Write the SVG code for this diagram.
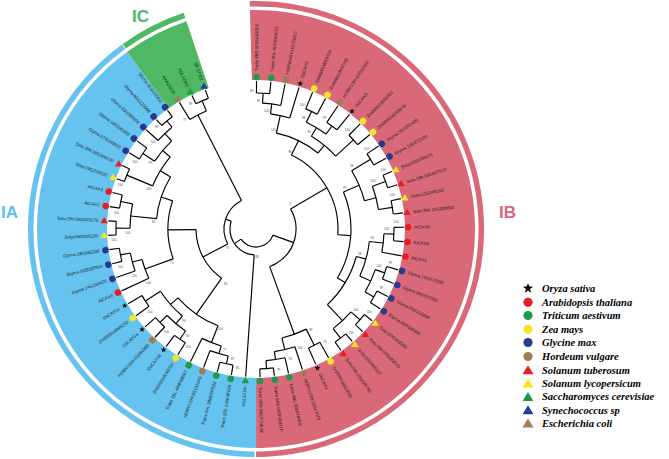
<svg xmlns="http://www.w3.org/2000/svg" xmlns:xlink="http://www.w3.org/1999/xlink" width="669" height="459" viewBox="0 0 669 459">
<style>
.t circle{fill:none;stroke:#000;stroke-width:1.15}
.t line{stroke:#000;stroke-width:1.15}
.sec circle{fill:none}
.lb{font-family:"Liberation Sans",Arial,sans-serif;font-size:4.4px;fill:#1a1a1a}
.bs{font-family:"Liberation Sans",Arial,sans-serif;font-size:3.1px;fill:#555;text-anchor:middle}
.e{text-anchor:end}
.lg{font-family:"Liberation Serif","Times New Roman",serif;font-size:10.5px;font-weight:bold;font-style:italic;fill:#000}
.cl{font-family:"Liberation Sans",Arial,sans-serif;font-weight:bold;font-size:17px}
.red{fill:#E51E25}.grn{fill:#1E9A4A}.yel{fill:#F4E526}.nav{fill:#283A90}.brn{fill:#A47B55}.blk{fill:#000}.ytr{fill:#F2E81E}.btr{fill:#1F3DA6}
</style>
<defs>
<circle id="dc" r="3.3"/>
<path id="dt" d="M0,-3.6 L3.8,2.6 L-3.8,2.6Z"/>
<path id="ds" d="M0,-3 L0.705,-0.971 L2.853,-0.927 L1.141,0.371 L1.763,2.427 L0,1.2 L-1.763,2.427 L-1.141,0.371 L-2.853,-0.927 L-0.705,-0.971Z"/>
</defs>
<rect width="669" height="459" fill="#fff"/>
<g class="sec" transform="translate(256,229)">
<circle r="184" stroke="#D96878" stroke-width="70" pathLength="360" stroke-dasharray="181.6 400" transform="rotate(-91.6)"/>
<circle r="184" stroke="#66C3EF" stroke-width="70" pathLength="360" stroke-dasharray="144 400" transform="rotate(90)"/>
<circle r="184" stroke="#4FB865" stroke-width="70" pathLength="360" stroke-dasharray="17.5 400" transform="rotate(234)"/>
<circle r="225.3" stroke="#D96878" stroke-width="5.5" pathLength="360" stroke-dasharray="181.6 400" transform="rotate(-91.6)"/>
<circle r="225.3" stroke="#66C3EF" stroke-width="5.5" pathLength="360" stroke-dasharray="143.6 400" transform="rotate(90.4)"/>
<circle r="225.3" stroke="#4FB865" stroke-width="5.5" pathLength="360" stroke-dasharray="17.3 400" transform="rotate(234.2)"/>
</g>
<text class="cl" x="1" y="217.5" fill="#5BBFEB">IA</text>
<text class="cl" x="499" y="218" fill="#D96878">IB</text>
<text class="cl" x="132" y="21.5" fill="#4FB865" font-size="18">IC</text>
<g id="connectors" class="t" transform="translate(256,229)">
<circle r="136" pathLength="360" stroke-dasharray="5.57 400" transform="rotate(-89.8)"/>
<line y1="-136" y2="-148" transform="rotate(0.2)"/><line y1="-136" y2="-148" transform="rotate(5.77)"/>
<circle r="126" pathLength="360" stroke-dasharray="8.35 400" transform="rotate(-87.01)"/>
<line y1="-126" y2="-136" transform="rotate(2.99)"/><line y1="-126" y2="-148" transform="rotate(11.34)"/>
<circle r="116" pathLength="360" stroke-dasharray="9.74 400" transform="rotate(-82.83)"/>
<line y1="-116" y2="-126" transform="rotate(7.17)"/><line y1="-116" y2="-148" transform="rotate(16.91)"/>
<circle r="130" pathLength="360" stroke-dasharray="5.57 400" transform="rotate(-67.52)"/>
<line y1="-130" y2="-148" transform="rotate(22.48)"/><line y1="-130" y2="-148" transform="rotate(28.05)"/>
<circle r="128" pathLength="360" stroke-dasharray="5.57 400" transform="rotate(-56.38)"/>
<line y1="-128" y2="-148" transform="rotate(33.62)"/><line y1="-128" y2="-148" transform="rotate(39.19)"/>
<circle r="118" pathLength="360" stroke-dasharray="11.14 400" transform="rotate(-64.73)"/>
<line y1="-118" y2="-130" transform="rotate(25.27)"/><line y1="-118" y2="-128" transform="rotate(36.41)"/>
<circle r="132" pathLength="360" stroke-dasharray="5.57 400" transform="rotate(-45.24)"/>
<line y1="-132" y2="-148" transform="rotate(44.76)"/><line y1="-132" y2="-148" transform="rotate(50.33)"/>
<circle r="108" pathLength="360" stroke-dasharray="16.71 400" transform="rotate(-59.16)"/>
<line y1="-108" y2="-118" transform="rotate(30.84)"/><line y1="-108" y2="-132" transform="rotate(47.55)"/>
<circle r="98" pathLength="360" stroke-dasharray="27.15 400" transform="rotate(-77.96)"/>
<line y1="-98" y2="-116" transform="rotate(12.04)"/><line y1="-98" y2="-108" transform="rotate(39.19)"/>
<circle r="134" pathLength="360" stroke-dasharray="5.57 400" transform="rotate(-34.1)"/>
<line y1="-134" y2="-148" transform="rotate(55.9)"/><line y1="-134" y2="-148" transform="rotate(61.47)"/>
<circle r="138" pathLength="360" stroke-dasharray="5.57 400" transform="rotate(-22.96)"/>
<line y1="-138" y2="-148" transform="rotate(67.04)"/><line y1="-138" y2="-148" transform="rotate(72.61)"/>
<circle r="138" pathLength="360" stroke-dasharray="5.57 400" transform="rotate(-11.82)"/>
<line y1="-138" y2="-148" transform="rotate(78.18)"/><line y1="-138" y2="-148" transform="rotate(83.75)"/>
<circle r="124" pathLength="360" stroke-dasharray="11.14 400" transform="rotate(-20.17)"/>
<line y1="-124" y2="-138" transform="rotate(69.83)"/><line y1="-124" y2="-138" transform="rotate(80.97)"/>
<circle r="112" pathLength="360" stroke-dasharray="16.71 400" transform="rotate(-31.31)"/>
<line y1="-112" y2="-134" transform="rotate(58.69)"/><line y1="-112" y2="-124" transform="rotate(75.4)"/>
<circle r="138" pathLength="360" stroke-dasharray="5.57 400" transform="rotate(-0.68)"/>
<line y1="-138" y2="-148" transform="rotate(89.32)"/><line y1="-138" y2="-148" transform="rotate(94.89)"/>
<circle r="128" pathLength="360" stroke-dasharray="8.35 400" transform="rotate(2.11)"/>
<line y1="-128" y2="-138" transform="rotate(92.11)"/><line y1="-128" y2="-148" transform="rotate(100.46)"/>
<circle r="136" pathLength="360" stroke-dasharray="5.57 400" transform="rotate(16.03)"/>
<line y1="-136" y2="-148" transform="rotate(106.03)"/><line y1="-136" y2="-148" transform="rotate(111.6)"/>
<circle r="136" pathLength="360" stroke-dasharray="5.57 400" transform="rotate(27.17)"/>
<line y1="-136" y2="-148" transform="rotate(117.17)"/><line y1="-136" y2="-148" transform="rotate(122.74)"/>
<circle r="126" pathLength="360" stroke-dasharray="11.14 400" transform="rotate(18.82)"/>
<line y1="-126" y2="-136" transform="rotate(108.82)"/><line y1="-126" y2="-136" transform="rotate(119.96)"/>
<circle r="114" pathLength="360" stroke-dasharray="18.11 400" transform="rotate(6.28)"/>
<line y1="-114" y2="-128" transform="rotate(96.28)"/><line y1="-114" y2="-126" transform="rotate(114.39)"/>
<circle r="138" pathLength="360" stroke-dasharray="5.57 400" transform="rotate(38.31)"/>
<line y1="-138" y2="-148" transform="rotate(128.31)"/><line y1="-138" y2="-148" transform="rotate(133.88)"/>
<circle r="138" pathLength="360" stroke-dasharray="5.57 400" transform="rotate(49.45)"/>
<line y1="-138" y2="-148" transform="rotate(139.45)"/><line y1="-138" y2="-148" transform="rotate(145.02)"/>
<circle r="126" pathLength="360" stroke-dasharray="11.14 400" transform="rotate(41.1)"/>
<line y1="-126" y2="-138" transform="rotate(131.1)"/><line y1="-126" y2="-138" transform="rotate(142.24)"/>
<circle r="104" pathLength="360" stroke-dasharray="31.33 400" transform="rotate(15.34)"/>
<line y1="-104" y2="-114" transform="rotate(105.34)"/><line y1="-104" y2="-126" transform="rotate(136.67)"/>
<circle r="95" pathLength="360" stroke-dasharray="53.96 400" transform="rotate(-22.96)"/>
<line y1="-95" y2="-112" transform="rotate(67.04)"/><line y1="-95" y2="-104" transform="rotate(121)"/>
<circle r="82" pathLength="360" stroke-dasharray="68.4 400" transform="rotate(-64.38)"/>
<line y1="-82" y2="-98" transform="rotate(25.62)"/><line y1="-82" y2="-95" transform="rotate(94.02)"/>
<circle r="140" pathLength="360" stroke-dasharray="5.57 400" transform="rotate(82.87)"/>
<line y1="-140" y2="-148" transform="rotate(172.87)"/><line y1="-140" y2="-148" transform="rotate(178.44)"/>
<circle r="132" pathLength="360" stroke-dasharray="8.36 400" transform="rotate(77.3)"/>
<line y1="-132" y2="-148" transform="rotate(167.3)"/><line y1="-132" y2="-140" transform="rotate(175.66)"/>
<circle r="124" pathLength="360" stroke-dasharray="9.75 400" transform="rotate(71.73)"/>
<line y1="-124" y2="-148" transform="rotate(161.73)"/><line y1="-124" y2="-132" transform="rotate(171.48)"/>
<circle r="130" pathLength="360" stroke-dasharray="5.57 400" transform="rotate(60.59)"/>
<line y1="-130" y2="-148" transform="rotate(150.59)"/><line y1="-130" y2="-148" transform="rotate(156.16)"/>
<circle r="112" pathLength="360" stroke-dasharray="13.22 400" transform="rotate(63.38)"/>
<line y1="-112" y2="-130" transform="rotate(153.38)"/><line y1="-112" y2="-124" transform="rotate(166.6)"/>
<circle r="40" pathLength="360" stroke-dasharray="100.17 400" transform="rotate(-30.18)"/>
<line y1="-40" y2="-82" transform="rotate(59.82)"/><line y1="-40" y2="-112" transform="rotate(159.99)"/>
<circle r="138" pathLength="360" stroke-dasharray="5.57 400" transform="rotate(99.58)"/>
<line y1="-138" y2="-148" transform="rotate(189.58)"/><line y1="-138" y2="-148" transform="rotate(195.15)"/>
<circle r="130" pathLength="360" stroke-dasharray="8.35 400" transform="rotate(102.37)"/>
<line y1="-130" y2="-138" transform="rotate(192.37)"/><line y1="-130" y2="-148" transform="rotate(200.72)"/>
<circle r="122" pathLength="360" stroke-dasharray="9.75 400" transform="rotate(106.54)"/>
<line y1="-122" y2="-130" transform="rotate(196.54)"/><line y1="-122" y2="-148" transform="rotate(206.29)"/>
<circle r="134" pathLength="360" stroke-dasharray="5.57 400" transform="rotate(121.86)"/>
<line y1="-134" y2="-148" transform="rotate(211.86)"/><line y1="-134" y2="-148" transform="rotate(217.43)"/>
<circle r="134" pathLength="360" stroke-dasharray="5.57 400" transform="rotate(133)"/>
<line y1="-134" y2="-148" transform="rotate(223)"/><line y1="-134" y2="-148" transform="rotate(228.57)"/>
<circle r="124" pathLength="360" stroke-dasharray="11.14 400" transform="rotate(124.65)"/>
<line y1="-124" y2="-134" transform="rotate(214.65)"/><line y1="-124" y2="-134" transform="rotate(225.79)"/>
<circle r="132" pathLength="360" stroke-dasharray="5.57 400" transform="rotate(144.14)"/>
<line y1="-132" y2="-148" transform="rotate(234.14)"/><line y1="-132" y2="-148" transform="rotate(239.71)"/>
<circle r="114" pathLength="360" stroke-dasharray="16.71 400" transform="rotate(130.22)"/>
<line y1="-114" y2="-124" transform="rotate(220.22)"/><line y1="-114" y2="-132" transform="rotate(236.93)"/>
<circle r="104" pathLength="360" stroke-dasharray="27.15 400" transform="rotate(111.42)"/>
<line y1="-104" y2="-122" transform="rotate(201.42)"/><line y1="-104" y2="-114" transform="rotate(228.57)"/>
<circle r="138" pathLength="360" stroke-dasharray="5.57 400" transform="rotate(166.42)"/>
<line y1="-138" y2="-148" transform="rotate(256.42)"/><line y1="-138" y2="-148" transform="rotate(261.99)"/>
<circle r="128" pathLength="360" stroke-dasharray="8.35 400" transform="rotate(160.85)"/>
<line y1="-128" y2="-148" transform="rotate(250.85)"/><line y1="-128" y2="-138" transform="rotate(259.2)"/>
<circle r="118" pathLength="360" stroke-dasharray="9.75 400" transform="rotate(155.28)"/>
<line y1="-118" y2="-148" transform="rotate(245.28)"/><line y1="-118" y2="-128" transform="rotate(255.03)"/>
<circle r="140" pathLength="360" stroke-dasharray="5.57 400" transform="rotate(177.56)"/>
<line y1="-140" y2="-148" transform="rotate(267.56)"/><line y1="-140" y2="-148" transform="rotate(273.13)"/>
<circle r="138" pathLength="360" stroke-dasharray="5.57 400" transform="rotate(188.7)"/>
<line y1="-138" y2="-148" transform="rotate(278.7)"/><line y1="-138" y2="-148" transform="rotate(284.27)"/>
<circle r="126" pathLength="360" stroke-dasharray="11.14 400" transform="rotate(180.35)"/>
<line y1="-126" y2="-140" transform="rotate(270.35)"/><line y1="-126" y2="-138" transform="rotate(281.49)"/>
<circle r="140" pathLength="360" stroke-dasharray="5.57 400" transform="rotate(199.84)"/>
<line y1="-140" y2="-148" transform="rotate(289.84)"/><line y1="-140" y2="-148" transform="rotate(295.41)"/>
<circle r="136" pathLength="360" stroke-dasharray="5.57 400" transform="rotate(210.98)"/>
<line y1="-136" y2="-148" transform="rotate(300.98)"/><line y1="-136" y2="-148" transform="rotate(306.55)"/>
<circle r="140" pathLength="360" stroke-dasharray="5.57 400" transform="rotate(227.69)"/>
<line y1="-140" y2="-148" transform="rotate(317.69)"/><line y1="-140" y2="-148" transform="rotate(323.26)"/>
<circle r="132" pathLength="360" stroke-dasharray="8.36 400" transform="rotate(222.12)"/>
<line y1="-132" y2="-148" transform="rotate(312.12)"/><line y1="-132" y2="-140" transform="rotate(320.48)"/>
<circle r="122" pathLength="360" stroke-dasharray="12.53 400" transform="rotate(213.77)"/>
<line y1="-122" y2="-136" transform="rotate(303.77)"/><line y1="-122" y2="-132" transform="rotate(316.3)"/>
<circle r="112" pathLength="360" stroke-dasharray="17.41 400" transform="rotate(202.63)"/>
<line y1="-112" y2="-140" transform="rotate(292.63)"/><line y1="-112" y2="-122" transform="rotate(310.04)"/>
<circle r="100" pathLength="360" stroke-dasharray="25.42 400" transform="rotate(185.92)"/>
<line y1="-100" y2="-126" transform="rotate(275.92)"/><line y1="-100" y2="-112" transform="rotate(301.34)"/>
<circle r="88" pathLength="360" stroke-dasharray="38.47 400" transform="rotate(160.16)"/>
<line y1="-88" y2="-118" transform="rotate(250.16)"/><line y1="-88" y2="-100" transform="rotate(288.63)"/>
<circle r="60" pathLength="360" stroke-dasharray="54.41 400" transform="rotate(124.99)"/>
<line y1="-60" y2="-104" transform="rotate(214.99)"/><line y1="-60" y2="-88" transform="rotate(269.4)"/>
<circle r="139" pathLength="360" stroke-dasharray="5.57 400" transform="rotate(244.4)"/>
<line y1="-139" y2="-148" transform="rotate(334.4)"/><line y1="-139" y2="-148" transform="rotate(339.97)"/>
<circle r="128" pathLength="360" stroke-dasharray="8.36 400" transform="rotate(238.83)"/>
<line y1="-128" y2="-148" transform="rotate(328.83)"/><line y1="-128" y2="-139" transform="rotate(337.19)"/>
<circle r="32" pathLength="360" stroke-dasharray="90.81 400" transform="rotate(152.2)"/>
<line y1="-32" y2="-60" transform="rotate(242.2)"/><line y1="-32" y2="-128" transform="rotate(333.01)"/>
<circle r="26" pathLength="360" stroke-dasharray="103.59 400" transform="rotate(94.01)"/>
<line y1="-26" y2="-148" transform="rotate(184.01)"/><line y1="-26" y2="-32" transform="rotate(287.6)"/>
<circle r="18" pathLength="360" stroke-dasharray="125.9 400" transform="rotate(19.9)"/>
<line y1="-18" y2="-40" transform="rotate(109.9)"/><line y1="-18" y2="-26" transform="rotate(235.8)"/>
</g>
<g id="support" transform="translate(256,229)">
<text class="bs" dy="1" transform="rotate(-1.8) translate(0,-138.5) rotate(1.8)">83</text>
<text class="bs" dy="1" transform="rotate(0.99) translate(0,-128.5) rotate(-0.99)">96</text>
<text class="bs" dy="1" transform="rotate(5.17) translate(0,-118.5) rotate(-5.17)">100</text>
<text class="bs" dy="1" transform="rotate(20.48) translate(0,-132.5) rotate(-20.48)">100</text>
<text class="bs" dy="1" transform="rotate(31.62) translate(0,-130.5) rotate(-31.62)">99</text>
<text class="bs" dy="1" transform="rotate(23.27) translate(0,-120.5) rotate(-23.27)">98</text>
<text class="bs" dy="1" transform="rotate(42.76) translate(0,-134.5) rotate(-42.76)">100</text>
<text class="bs" dy="1" transform="rotate(28.84) translate(0,-110.5) rotate(-28.84)">85</text>
<text class="bs" dy="1" transform="rotate(10.04) translate(0,-100.5) rotate(-10.04)">100</text>
<text class="bs" dy="1" transform="rotate(53.9) translate(0,-136.5) rotate(-53.9)">100</text>
<text class="bs" dy="1" transform="rotate(65.04) translate(0,-140.5) rotate(-65.04)">100</text>
<text class="bs" dy="1" transform="rotate(76.18) translate(0,-140.5) rotate(-76.18)">100</text>
<text class="bs" dy="1" transform="rotate(67.83) translate(0,-126.5) rotate(-67.83)">100</text>
<text class="bs" dy="1" transform="rotate(56.69) translate(0,-114.5) rotate(-56.69)">98</text>
<text class="bs" dy="1" transform="rotate(87.32) translate(0,-140.5) rotate(-87.32)">100</text>
<text class="bs" dy="1" transform="rotate(90.11) translate(0,-130.5) rotate(-90.11)">100</text>
<text class="bs" dy="1" transform="rotate(104.03) translate(0,-138.5) rotate(-104.03)">99</text>
<text class="bs" dy="1" transform="rotate(115.17) translate(0,-138.5) rotate(-115.17)">99</text>
<text class="bs" dy="1" transform="rotate(106.82) translate(0,-128.5) rotate(-106.82)">100</text>
<text class="bs" dy="1" transform="rotate(94.28) translate(0,-116.5) rotate(-94.28)">96</text>
<text class="bs" dy="1" transform="rotate(126.31) translate(0,-140.5) rotate(-126.31)">100</text>
<text class="bs" dy="1" transform="rotate(137.45) translate(0,-140.5) rotate(-137.45)">100</text>
<text class="bs" dy="1" transform="rotate(129.1) translate(0,-128.5) rotate(-129.1)">100</text>
<text class="bs" dy="1" transform="rotate(103.34) translate(0,-106.5) rotate(-103.34)">98</text>
<text class="bs" dy="1" transform="rotate(65.04) translate(0,-97.5) rotate(-65.04)">79</text>
<text class="bs" dy="1" transform="rotate(23.62) translate(0,-84.5) rotate(-23.62)">98</text>
<text class="bs" dy="1" transform="rotate(170.87) translate(0,-142.5) rotate(-170.87)">79</text>
<text class="bs" dy="1" transform="rotate(165.3) translate(0,-134.5) rotate(-165.3)">94</text>
<text class="bs" dy="1" transform="rotate(159.73) translate(0,-126.5) rotate(-159.73)">100</text>
<text class="bs" dy="1" transform="rotate(148.59) translate(0,-132.5) rotate(-148.59)">75</text>
<text class="bs" dy="1" transform="rotate(151.38) translate(0,-114.5) rotate(-151.38)">89</text>
<text class="bs" dy="1" transform="rotate(53.8) translate(0,-42.5) rotate(-53.8)">0</text>
<text class="bs" dy="1" transform="rotate(187.58) translate(0,-140.5) rotate(-187.58)">81</text>
<text class="bs" dy="1" transform="rotate(190.37) translate(0,-132.5) rotate(-190.37)">99</text>
<text class="bs" dy="1" transform="rotate(194.54) translate(0,-124.5) rotate(-194.54)">77</text>
<text class="bs" dy="1" transform="rotate(209.86) translate(0,-136.5) rotate(-209.86)">100</text>
<text class="bs" dy="1" transform="rotate(221) translate(0,-136.5) rotate(-221)">100</text>
<text class="bs" dy="1" transform="rotate(212.65) translate(0,-126.5) rotate(-212.65)">85</text>
<text class="bs" dy="1" transform="rotate(232.14) translate(0,-134.5) rotate(-232.14)">100</text>
<text class="bs" dy="1" transform="rotate(218.22) translate(0,-116.5) rotate(-218.22)">96</text>
<text class="bs" dy="1" transform="rotate(199.42) translate(0,-106.5) rotate(-199.42)">100</text>
<text class="bs" dy="1" transform="rotate(254.42) translate(0,-140.5) rotate(-254.42)">100</text>
<text class="bs" dy="1" transform="rotate(248.85) translate(0,-130.5) rotate(-248.85)">100</text>
<text class="bs" dy="1" transform="rotate(243.28) translate(0,-120.5) rotate(-243.28)">100</text>
<text class="bs" dy="1" transform="rotate(265.56) translate(0,-142.5) rotate(-265.56)">100</text>
<text class="bs" dy="1" transform="rotate(276.7) translate(0,-140.5) rotate(-276.7)">100</text>
<text class="bs" dy="1" transform="rotate(268.35) translate(0,-128.5) rotate(-268.35)">100</text>
<text class="bs" dy="1" transform="rotate(287.84) translate(0,-142.5) rotate(-287.84)">100</text>
<text class="bs" dy="1" transform="rotate(298.98) translate(0,-138.5) rotate(-298.98)">100</text>
<text class="bs" dy="1" transform="rotate(315.69) translate(0,-142.5) rotate(-315.69)">98</text>
<text class="bs" dy="1" transform="rotate(310.12) translate(0,-134.5) rotate(-310.12)">100</text>
<text class="bs" dy="1" transform="rotate(301.77) translate(0,-124.5) rotate(-301.77)">99</text>
<text class="bs" dy="1" transform="rotate(290.63) translate(0,-114.5) rotate(-290.63)">100</text>
<text class="bs" dy="1" transform="rotate(273.92) translate(0,-102.5) rotate(-273.92)">85</text>
<text class="bs" dy="1" transform="rotate(248.16) translate(0,-90.5) rotate(-248.16)">75</text>
<text class="bs" dy="1" transform="rotate(209) translate(0,-62.5) rotate(-209)">85</text>
<text class="bs" dy="1" transform="rotate(332.4) translate(0,-141.5) rotate(-332.4)">99</text>
<text class="bs" dy="1" transform="rotate(326.83) translate(0,-130.5) rotate(-326.83)">77</text>
<text class="bs" dy="1" transform="rotate(236) translate(0,-34.5) rotate(-236)">75</text>
<text class="bs" dy="1" transform="rotate(178) translate(0,-28.5) rotate(-178)">48</text>
</g>
<g id="leaves" transform="translate(256,229)">
<g id="L0" transform="rotate(0.2)"><use href="#dc" class="grn" y="-152"/><text class="lb" transform="rotate(-90) translate(158,0)" dy="1.5">Traes 4BS 0F061430D0</text></g>
<g id="L1" transform="rotate(5.77)"><use href="#dc" class="grn" y="-152"/><text class="lb" transform="rotate(-90) translate(158,0)" dy="1.5">Traes 4DL 4DD80AC21</text></g>
<g id="L2" transform="rotate(11.34)"><use href="#dc" class="brn" y="-152"/><text class="lb" transform="rotate(-90) translate(158,0)" dy="1.5">HORVU4Hr1G073210</text></g>
<g id="L3" transform="rotate(16.91)"><use href="#ds" class="blk" transform="translate(0,-152) rotate(-16.91)"/><text class="lb" transform="rotate(-90) translate(158,0)" dy="1.5">OsCAX2</text></g>
<g id="L4" transform="rotate(22.48)"><use href="#dc" class="yel" y="-152"/><text class="lb" transform="rotate(-90) translate(158,0)" dy="1.5">Zm00001d025419</text></g>
<g id="L5" transform="rotate(28.05)"><use href="#dc" class="yel" y="-152"/><text class="lb" transform="rotate(-90) translate(158,0)" dy="1.5">Zm00001d047242</text></g>
<g id="L6" transform="rotate(33.62)"><use href="#dc" class="brn" y="-152"/><text class="lb" transform="rotate(-90) translate(158,0)" dy="1.5">HORVU3Hr1G012560</text></g>
<g id="L7" transform="rotate(39.19)"><use href="#ds" class="blk" transform="translate(0,-152) rotate(-39.19)"/><text class="lb" transform="rotate(-90) translate(158,0)" dy="1.5">OsCAX3</text></g>
<g id="L8" transform="rotate(44.76)"><use href="#dc" class="yel" y="-152"/><text class="lb" transform="rotate(-90) translate(158,0)" dy="1.5">Zm00001d050322</text></g>
<g id="L9" transform="rotate(50.33)"><use href="#dc" class="yel" y="-152"/><text class="lb" transform="rotate(-90) translate(158,0)" dy="1.5">Zm00001d048479</text></g>
<g id="L10" transform="rotate(55.9)"><use href="#dc" class="nav" y="-152"/><text class="lb" transform="rotate(-90) translate(158,0)" dy="1.5">Glyma.15G051400</text></g>
<g id="L11" transform="rotate(61.47)"><use href="#dc" class="nav" y="-152"/><text class="lb" transform="rotate(-90) translate(158,0)" dy="1.5">Glyma.13G272100</text></g>
<g id="L12" transform="rotate(67.04)"><use href="#dt" class="ytr" transform="translate(0,-152) rotate(-67.04)"/><text class="lb" transform="rotate(-90) translate(158,0)" dy="1.5">Solyc03G005072</text></g>
<g id="L13" transform="rotate(72.61)"><use href="#dt" class="red" transform="translate(0,-152) rotate(-72.61)"/><text class="lb" transform="rotate(-90) translate(158,0)" dy="1.5">Sotu.DM.03G007570</text></g>
<g id="L14" transform="rotate(78.18)"><use href="#dt" class="ytr" transform="translate(0,-152) rotate(-78.18)"/><text class="lb" transform="rotate(-90) translate(158,0)" dy="1.5">Solyc12G005162</text></g>
<g id="L15" transform="rotate(83.75)"><use href="#dt" class="red" transform="translate(0,-152) rotate(-83.75)"/><text class="lb" transform="rotate(-90) translate(158,0)" dy="1.5">Sotu.DM.12G008650</text></g>
<g id="L16" transform="rotate(89.32)"><use href="#dc" class="red" y="-152"/><text class="lb" transform="rotate(-90) translate(158,0)" dy="1.5">AtCAX5</text></g>
<g id="L17" transform="rotate(94.89)"><use href="#dc" class="red" y="-152"/><text class="lb" transform="rotate(-90) translate(158,0)" dy="1.5">AtCAX6</text></g>
<g id="L18" transform="rotate(100.46)"><use href="#dc" class="red" y="-152"/><text class="lb" transform="rotate(-90) translate(158,0)" dy="1.5">AtCAX2</text></g>
<g id="L19" transform="rotate(106.03)"><use href="#dc" class="nav" y="-152"/><text class="lb" transform="rotate(-90) translate(158,0)" dy="1.5">Glyma.15G072200</text></g>
<g id="L20" transform="rotate(111.6)"><use href="#dc" class="nav" y="-152"/><text class="lb" transform="rotate(-90) translate(158,0)" dy="1.5">Glyma.08G337000</text></g>
<g id="L21" transform="rotate(117.17)"><use href="#dc" class="nav" y="-152"/><text class="lb" transform="rotate(-90) translate(158,0)" dy="1.5">Glyma.05G152600</text></g>
<g id="L22" transform="rotate(122.74)"><use href="#dc" class="nav" y="-152"/><text class="lb" transform="rotate(-90) translate(158,0)" dy="1.5">Glyma.08G338900</text></g>
<g id="L23" transform="rotate(128.31)"><use href="#dt" class="ytr" transform="translate(0,-152) rotate(-128.31)"/><text class="lb" transform="rotate(-90) translate(158,0)" dy="1.5">Solyc07G063300</text></g>
<g id="L24" transform="rotate(133.88)"><use href="#dt" class="red" transform="translate(0,-152) rotate(-133.88)"/><text class="lb" transform="rotate(-90) translate(158,0)" dy="1.5">Sotu.DM.07G022010</text></g>
<g id="L25" transform="rotate(139.45)"><use href="#dt" class="ytr" transform="translate(0,-152) rotate(-139.45)"/><text class="lb" transform="rotate(-90) translate(158,0)" dy="1.5">Solyc10G005317</text></g>
<g id="L26" transform="rotate(145.02)"><use href="#dt" class="red" transform="translate(0,-152) rotate(-145.02)"/><text class="lb" transform="rotate(-90) translate(158,0)" dy="1.5">Sotu.DM.10G028790</text></g>
<g id="L27" transform="rotate(150.59)"><use href="#dc" class="yel" y="-152"/><text class="lb" transform="rotate(-90) translate(158,0)" dy="1.5">Zm00001d013025</text></g>
<g id="L28" transform="rotate(156.16)"><use href="#ds" class="blk" transform="translate(0,-152) rotate(-156.16)"/><text class="lb" transform="rotate(-90) translate(158,0)" dy="1.5">OsCAX4</text></g>
<g id="L29" transform="rotate(161.73)"><use href="#dc" class="brn" y="-152"/><text class="lb" transform="rotate(-90) translate(158,0)" dy="1.5">HORVU2Hr1G047470</text></g>
<g id="L30" transform="rotate(167.3)"><use href="#dc" class="grn" y="-152"/><text class="lb" transform="rotate(-90) translate(158,0)" dy="1.5">Traes 6BL 1026789F8</text></g>
<g id="L31" transform="rotate(172.87)"><use href="#dc" class="grn" y="-152"/><text class="lb" transform="rotate(-90) translate(158,0)" dy="1.5">Traes 6AS 6A0F8ED7F</text></g>
<g id="L32" transform="rotate(178.44)"><use href="#dc" class="grn" y="-152"/><text class="lb" transform="rotate(-90) translate(158,0)" dy="1.5">Traes 6DS 6BCF74E1E</text></g>
<g id="L33" transform="rotate(184.01)"><use href="#dt" class="grn" transform="translate(0,-152) rotate(-184.01)"/><text class="lb e" transform="rotate(90) translate(-158,0)" dy="1.5">YNL321W</text></g>
<g id="L34" transform="rotate(189.58)"><use href="#dc" class="grn" y="-152"/><text class="lb e" transform="rotate(90) translate(-158,0)" dy="1.5">Traes 2DL 242F4F626</text></g>
<g id="L35" transform="rotate(195.15)"><use href="#dc" class="grn" y="-152"/><text class="lb e" transform="rotate(90) translate(-158,0)" dy="1.5">Traes 2AL 286EEF0D2</text></g>
<g id="L36" transform="rotate(200.72)"><use href="#dc" class="brn" y="-152"/><text class="lb e" transform="rotate(90) translate(-158,0)" dy="1.5">HORVU2Hr1G101940</text></g>
<g id="L37" transform="rotate(206.29)"><use href="#dc" class="grn" y="-152"/><text class="lb e" transform="rotate(90) translate(-158,0)" dy="1.5">Traes 2BL 449F08567</text></g>
<g id="L38" transform="rotate(211.86)"><use href="#dc" class="yel" y="-152"/><text class="lb e" transform="rotate(90) translate(-158,0)" dy="1.5">Zm00001d043733</text></g>
<g id="L39" transform="rotate(217.43)"><use href="#ds" class="blk" transform="translate(0,-152) rotate(-217.43)"/><text class="lb e" transform="rotate(90) translate(-158,0)" dy="1.5">OsCAX1b</text></g>
<g id="L40" transform="rotate(223)"><use href="#dc" class="brn" y="-152"/><text class="lb e" transform="rotate(90) translate(-158,0)" dy="1.5">HORVU2Hr1G084380</text></g>
<g id="L41" transform="rotate(228.57)"><use href="#ds" class="blk" transform="translate(0,-152) rotate(-228.57)"/><text class="lb e" transform="rotate(90) translate(-158,0)" dy="1.5">OsCAX1a</text></g>
<g id="L42" transform="rotate(234.14)"><use href="#dc" class="yel" y="-152"/><text class="lb e" transform="rotate(90) translate(-158,0)" dy="1.5">Zm00001d045232</text></g>
<g id="L43" transform="rotate(239.71)"><use href="#ds" class="blk" transform="translate(0,-152) rotate(-239.71)"/><text class="lb e" transform="rotate(90) translate(-158,0)" dy="1.5">OsCAX1c</text></g>
<g id="L44" transform="rotate(245.28)"><use href="#dc" class="red" y="-152"/><text class="lb e" transform="rotate(90) translate(-158,0)" dy="1.5">AtCAX4</text></g>
<g id="L45" transform="rotate(250.85)"><use href="#dc" class="nav" y="-152"/><text class="lb e" transform="rotate(90) translate(-158,0)" dy="1.5">Glyma.14G159400</text></g>
<g id="L46" transform="rotate(256.42)"><use href="#dc" class="nav" y="-152"/><text class="lb e" transform="rotate(90) translate(-158,0)" dy="1.5">Glyma.02G285500</text></g>
<g id="L47" transform="rotate(261.99)"><use href="#dc" class="nav" y="-152"/><text class="lb e" transform="rotate(90) translate(-158,0)" dy="1.5">Glyma.18G063200</text></g>
<g id="L48" transform="rotate(267.56)"><use href="#dt" class="ytr" transform="translate(0,-152) rotate(-267.56)"/><text class="lb e" transform="rotate(90) translate(-158,0)" dy="1.5">Solyc06G005130</text></g>
<g id="L49" transform="rotate(273.13)"><use href="#dt" class="red" transform="translate(0,-152) rotate(-273.13)"/><text class="lb e" transform="rotate(90) translate(-158,0)" dy="1.5">Sotu.DM.06G003170</text></g>
<g id="L50" transform="rotate(278.7)"><use href="#dc" class="red" y="-152"/><text class="lb e" transform="rotate(90) translate(-158,0)" dy="1.5">AtCAX1</text></g>
<g id="L51" transform="rotate(284.27)"><use href="#dc" class="red" y="-152"/><text class="lb e" transform="rotate(90) translate(-158,0)" dy="1.5">AtCAX3</text></g>
<g id="L52" transform="rotate(289.84)"><use href="#dt" class="ytr" transform="translate(0,-152) rotate(-289.84)"/><text class="lb e" transform="rotate(90) translate(-158,0)" dy="1.5">Solyc09G005020</text></g>
<g id="L53" transform="rotate(295.41)"><use href="#dt" class="red" transform="translate(0,-152) rotate(-295.41)"/><text class="lb e" transform="rotate(90) translate(-158,0)" dy="1.5">Sotu.DM.09G008230</text></g>
<g id="L54" transform="rotate(300.98)"><use href="#dc" class="nav" y="-152"/><text class="lb e" transform="rotate(90) translate(-158,0)" dy="1.5">Glyma.07G149600</text></g>
<g id="L55" transform="rotate(306.55)"><use href="#dc" class="nav" y="-152"/><text class="lb e" transform="rotate(90) translate(-158,0)" dy="1.5">Glyma.18G230300</text></g>
<g id="L56" transform="rotate(312.12)"><use href="#dc" class="nav" y="-152"/><text class="lb e" transform="rotate(90) translate(-158,0)" dy="1.5">Glyma.03G060500</text></g>
<g id="L57" transform="rotate(317.69)"><use href="#dc" class="nav" y="-152"/><text class="lb e" transform="rotate(90) translate(-158,0)" dy="1.5">Glyma.03G223900</text></g>
<g id="L58" transform="rotate(323.26)"><use href="#dc" class="nav" y="-152"/><text class="lb e" transform="rotate(90) translate(-158,0)" dy="1.5">Glyma.01G122800</text></g>
<g id="L59" transform="rotate(328.83)"><use href="#dt" class="brn" transform="translate(0,-152) rotate(-328.83)"/><text class="lb e" transform="rotate(90) translate(-158,0)" dy="1.5">AAA24220</text></g>
<g id="L60" transform="rotate(334.4)"><use href="#dt" class="grn" transform="translate(0,-152) rotate(-334.4)"/><text class="lb e" transform="rotate(90) translate(-158,0)" dy="1.5">YDL128W</text></g>
<g id="L61" transform="rotate(339.97)"><use href="#dt" class="btr" transform="translate(0,-152) rotate(-339.97)"/><text class="lb e" transform="rotate(90) translate(-158,0)" dy="1.5">SP 37702</text></g>
</g>
<g id="legend">
<use href="#ds" class="blk" transform="translate(528,288.3) scale(1.8)"/><text class="lg" x="542" y="292">Oryza sativa</text>
<circle cx="528" cy="302.3" r="4.6" class="red"/><text class="lg" x="542" y="306">Arabidopsis thaliana</text>
<circle cx="528" cy="315.5" r="4.6" class="grn"/><text class="lg" x="542" y="319.2">Triticum aestivum</text>
<circle cx="528" cy="329.3" r="4.6" class="yel"/><text class="lg" x="542" y="333">Zea mays</text>
<circle cx="528" cy="342.5" r="4.6" class="nav"/><text class="lg" x="542" y="346.2">Glycine max</text>
<circle cx="528" cy="356.5" r="4.6" class="brn"/><text class="lg" x="542" y="360.2">Hordeum vulgare</text>
<use href="#dt" class="red" transform="translate(528,370.5) scale(1.45)"/><text class="lg" x="542" y="373.7">Solanum tuberosum</text>
<use href="#dt" class="ytr" transform="translate(528,383.8) scale(1.45)"/><text class="lg" x="542" y="387">Solanum lycopersicum</text>
<use href="#dt" class="grn" transform="translate(528,397.2) scale(1.45)"/><text class="lg" x="542" y="400.4">Saccharomyces cerevisiae</text>
<use href="#dt" class="btr" transform="translate(528,410.5) scale(1.45)"/><text class="lg" x="542" y="413.7">Synechococcus sp</text>
<use href="#dt" class="brn" transform="translate(528,423.8) scale(1.45)"/><text class="lg" x="542" y="427">Escherichia coli</text>
</g>
</svg>
